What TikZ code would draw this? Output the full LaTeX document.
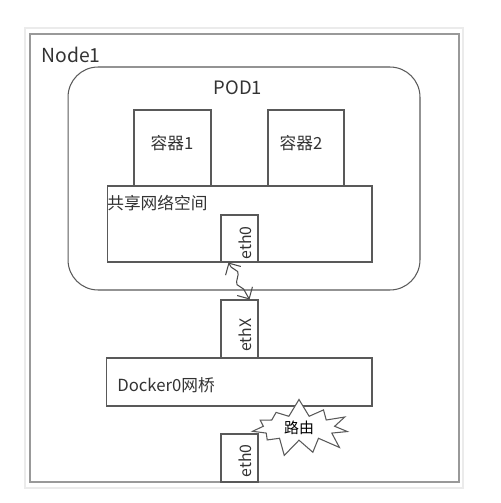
\documentclass[tikz,border=0pt]{standalone}
\usepackage{fontspec}
\setmainfont{Noto Sans CJK SC}
\usepackage{tikz}
\usetikzlibrary{positioning, shapes.symbols, decorations.pathmorphing, arrows.meta}
\tikzset{
x=0.02cm, y=-0.02cm, % one unit is one pixel of the sketch
box/.style={draw=black!65, line width=0.6pt, inner sep=0pt}, % plain boxes
port/.style={box, minimum width=0.74cm, fill=white}, % the small eth boxes
tag/.style={inner sep=0pt, font=\fontsize{9.5}{11}\selectfont, text=black!80}, % labels
}

\begin{document}
\begin{tikzpicture}
        \useasboundingbox (0,0) rectangle (500,503);
        \draw[black!8, line width=1pt] (25,28) rectangle (463,488);

        \node[box, draw=black!40, line width=1pt, minimum width=8.58cm, minimum height=8.96cm] (node1) at (244.5,258) {};
        \node[box, rounded corners=0.6cm, minimum width=7.04cm, minimum height=4.46cm] (pod) at (244,178.5) {};
        \node[box, minimum width=1.54cm, minimum height=1.52cm] (c1) at (172.5,148) {};
        \node[box, minimum width=1.52cm, minimum height=1.52cm] (c2) at (306,148) {};
        \node[box, fill=white, minimum width=5.3cm, minimum height=1.52cm] (share) at (239.5,224) {};
        \node[port, minimum height=0.94cm] (eth0a) at (239.5,238.5) {};
        \node[port, minimum height=1.16cm] (ethX) at (239.5,329) {};
        \node[box, minimum width=5.32cm, minimum height=0.96cm] (docker) at (239,382) {};
        \node[port, minimum height=0.96cm] (eth0b) at (239.5,458) {};
        \node[box, starburst, starburst points=11, starburst point height=0.36cm, random starburst=7,
              inner xsep=6pt, inner ysep=1pt, fill=white, minimum width=1.6cm, minimum height=1.1cm,
              font=\fontsize{8.5}{9}\selectfont] (route) at (299,428) {路由};

        \node[tag, anchor=west, font=\fontsize{11}{13}\selectfont] (n1) at (41,55) {Node1};
        \node[tag, font=\fontsize{10.5}{12}\selectfont] (p1) at (238,88) {POD1};
        \node[tag] (t1) at (172,143) {容器1};
        \node[tag] (t2) at (301,143) {容器2};
        \node[tag, anchor=west] (ts) at (107,203) {共享网络空间};
        \node[tag, rotate=90, font=\fontsize{9}{10}\selectfont] (te0) at (245,243) {eth0};
        \node[tag, rotate=90, font=\fontsize{9}{10}\selectfont] (tex) at (245,335) {ethX};
        \node[tag, anchor=west] (td) at (117,385) {Docker0网桥};
        \node[tag, rotate=90, font=\fontsize{9}{10}\selectfont] (te1) at (245,461) {eth0};

        \draw[{Straight Barb[length=5pt]}-{Straight Barb[length=5pt]}, black!70, line width=0.6pt,
              decorate, decoration={snake, amplitude=2pt, segment length=0.45cm, pre length=3pt, post length=3pt}]
        ([xshift=-0.22cm]eth0a.south) -- ([xshift=0.2cm]ethX.north);
    \end{tikzpicture}
\end{document}
